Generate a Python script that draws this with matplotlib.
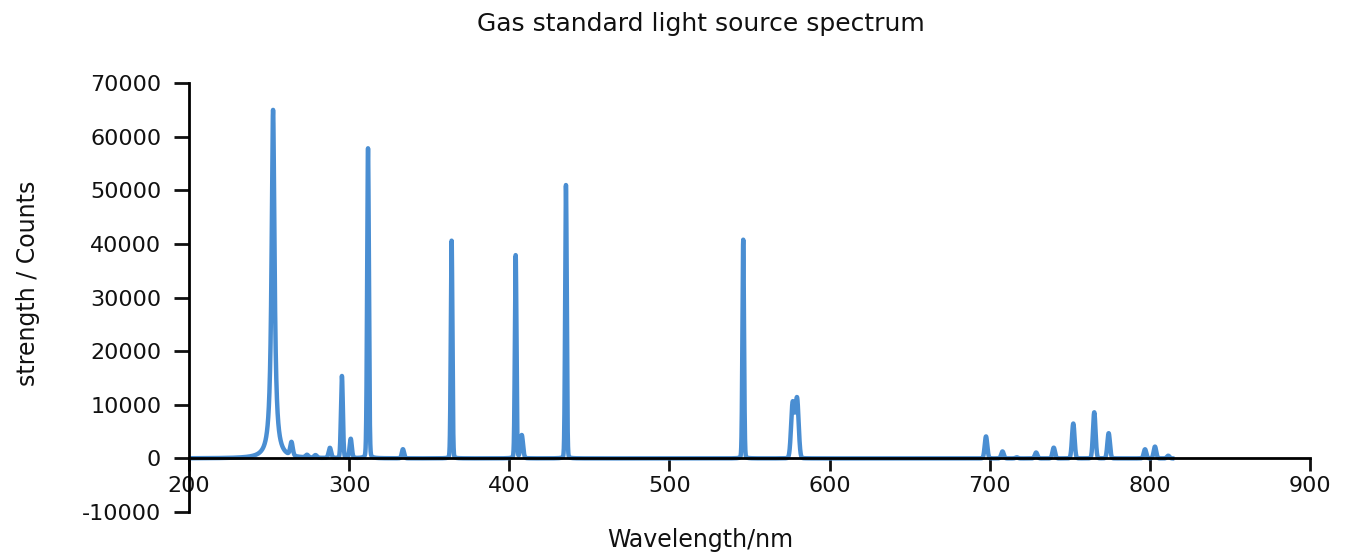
import numpy as np
import matplotlib
matplotlib.use("Agg")
import matplotlib.pyplot as plt

# peak list: centre (nm), height (counts), width (nm)
centres = [252.5, 264.0, 273.7, 279.0, 288.0, 295.5, 301.0, 311.8, 333.6, 364.0,
           404.0, 407.8, 435.4, 546.1, 577.0, 579.7, 697.7, 708.0, 716.9, 729.0,
           740.0, 752.2, 765.3, 774.3, 797.0, 803.2, 811.5]
heights = [65000, 2500, 500, 500, 1900, 15300, 3600, 57800, 1700, 40600,
           37900, 4300, 51000, 40800, 10300, 11100, 4100, 1300, 200, 1100,
           2000, 6500, 8600, 4700, 1700, 2200, 500]
widths = [1.1, 0.8, 0.9, 0.9, 0.8, 0.6, 0.7, 0.55, 0.7, 0.5,
          0.5, 0.8, 0.5, 0.5, 1.0, 1.0, 0.8, 0.8, 0.8, 0.8,
          0.8, 0.8, 0.8, 0.8, 0.8, 0.8, 0.8]
# share of lorentzian tail in each line
tails = [1.0, 0.2, 0.2, 0.2, 0.2, 0.1, 0.2, 0.12, 0.1, 0.08,
         0.1, 0.1, 0.08, 0.08, 0.05, 0.05, 0.05, 0.05, 0.05, 0.05,
         0.05, 0.05, 0.05, 0.05, 0.05, 0.05, 0.05]

wl_start, wl_end = 200, 814

xticks = [200, 300, 400, 500, 600, 700, 800, 900]
yticks = [-10000, 0, 10000, 20000, 30000, 40000, 50000, 60000, 70000]

wl = np.linspace(wl_start, wl_end, 15000)
counts = np.zeros_like(wl)
for c, h, w, t in zip(centres, heights, widths, tails):
    d = wl - c
    counts += h * ((1 - t) * np.exp(-d**2 / (2 * w**2)) + t * w**2 / (d**2 + w**2))

fig = plt.figure(figsize=(13.47, 5.56), dpi=100)
ax = fig.add_axes([0.1403, 0.0791, 0.8322, 0.7716])

ax.plot(wl, counts, color='#4a8ed2', lw=3.2, solid_joinstyle='round')

ax.set_xlim(200, 900)
ax.set_ylim(-10000, 70000)
ax.set_xticks(xticks)
ax.set_yticks(yticks)
ax.set_yticklabels([str(v) for v in yticks])

ax.spines['top'].set_visible(False)
ax.spines['right'].set_visible(False)
ax.spines['bottom'].set_position(('data', 0))
ax.spines['left'].set_linewidth(2)
ax.spines['bottom'].set_linewidth(2)
ax.tick_params(axis='both', direction='out', width=2,
               labelsize=16, colors='#111111')
ax.tick_params(axis='y', length=11, pad=9)
ax.tick_params(axis='x', length=9, pad=4)

fig.text(0.52, 0.957, 'Gas standard light source spectrum', ha='center', va='center',
         fontsize=18, color='#111111')
fig.text(0.52, 0.028, 'Wavelength/nm', ha='center', va='center',
         fontsize=17, color='#111111')
fig.text(0.021, 0.49, 'strength / Counts', ha='center', va='center', rotation=90,
         fontsize=17, color='#111111',
         family=['DejaVu Sans Condensed', 'Liberation Sans Narrow', 'DejaVu Sans'])

fig.savefig('out.png', dpi=100)
